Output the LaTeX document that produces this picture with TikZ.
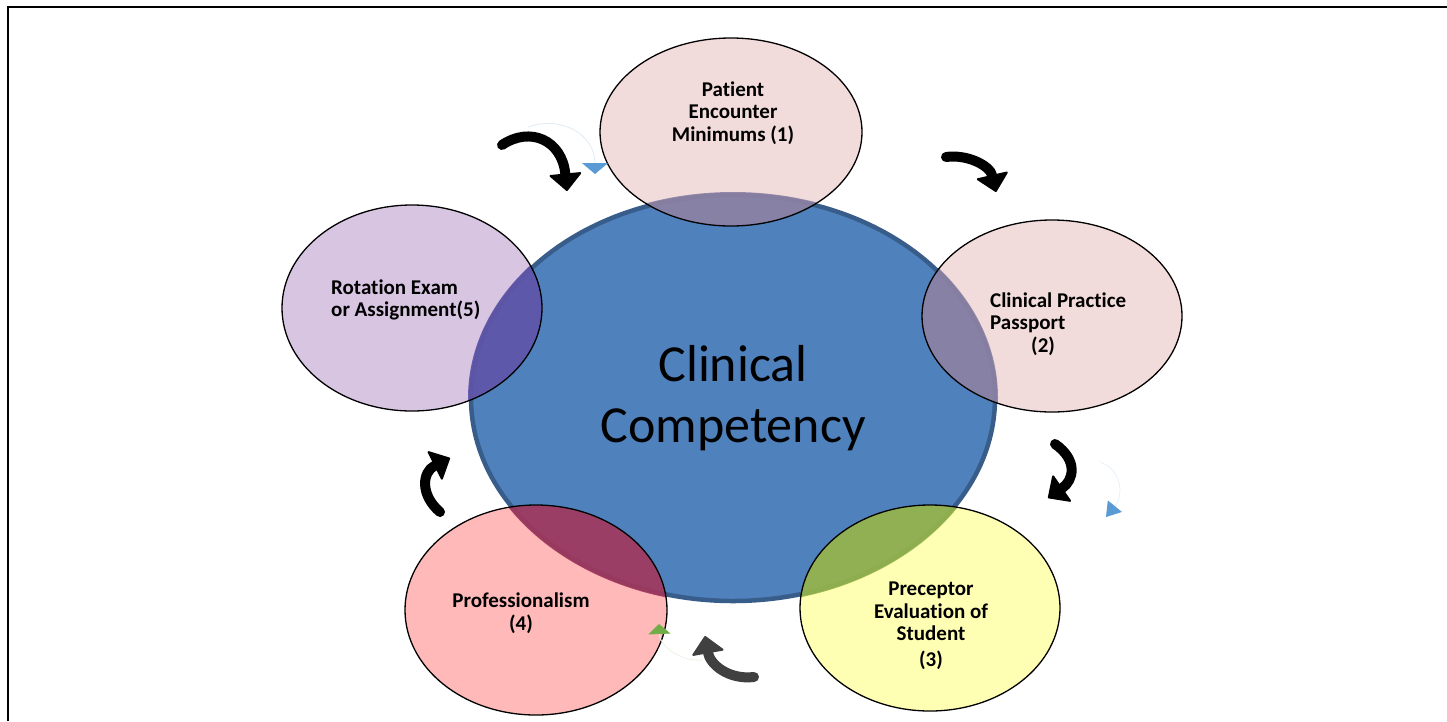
\documentclass[tikz,border=0pt]{standalone}
\usepackage{fontspec}
\setmainfont{Carlito}[Ligatures={CommonOff,ContextualOff},Contextuals=AlternateOff]
\usetikzlibrary{arrows.meta,shapes.geometric}

\definecolor{hubblue}{RGB}{79,129,189}
\definecolor{hubedge}{RGB}{56,93,138}
\definecolor{palepink}{RGB}{242,220,219}
\definecolor{lavender}{RGB}{216,197,226}
\definecolor{rosepink}{RGB}{255,185,185}
\definecolor{paleyellow}{RGB}{255,255,180}
\definecolor{mixpink}{RGB}{142,130,163}
\definecolor{mixlav}{RGB}{96,84,168}
\definecolor{mixrose}{RGB}{163,55,92}
\definecolor{mixyellow}{RGB}{152,182,72}
\definecolor{tipblue}{RGB}{91,155,213}
\definecolor{tipgreen}{RGB}{112,173,71}
\definecolor{darkarrow}{RGB}{64,64,64}

\begin{document}
\begin{tikzpicture}[x=1pt,y=-1pt,>={Triangle[width=34pt,length=18pt,line width=2pt,round]}]
\tikzstyle{hub} = [ellipse,draw=hubedge,line width=4.5pt,fill=hubblue,inner sep=0pt,minimum width=524pt,minimum height=406pt,align=center,font=\fontsize{52}{61}\selectfont]
\tikzstyle{spoke} = [ellipse,draw=black,line width=1.3pt,inner sep=0pt]
\tikzstyle{caption} = [inner sep=0pt,font=\bfseries\fontsize{21}{22.5}\selectfont]
\tikzstyle{bigarrow} = [->,line width=10pt,line cap=round]
\tikzstyle{ghost} = [line width=.8pt]
    \useasboundingbox (0,0) rectangle (1447,721);
    \draw[line width=2pt] (8,721) -- (8,7) -- (1447,7);

    \coordinate (c0) at (733,398);
    \coordinate (c1) at (731,132);
    \coordinate (c2) at (1052,316);
    \coordinate (c3) at (930,608);
    \coordinate (c4) at (536,610);
    \coordinate (c5) at (412,308);

    % satellite fills, under the hub
    \fill[palepink] (c1) ellipse [x radius=131pt, y radius=94pt];
    \fill[palepink] (c2) ellipse [x radius=130pt, y radius=96pt];
    \fill[paleyellow] (c3) ellipse [x radius=130pt, y radius=103pt];
    \fill[rosepink] (c4) ellipse [x radius=131pt, y radius=105pt];
    \fill[lavender] (c5) ellipse [x radius=130pt, y radius=103pt];

    \node[hub] (hub) at (c0) {Clinical\\Competency};

    % overlaps
    \begin{scope}
    \clip (c0) ellipse [x radius=265pt, y radius=206pt];
    \fill[mixpink,opacity=.9] (c1) ellipse [x radius=131pt, y radius=94pt];
    \fill[mixpink,opacity=.9] (c2) ellipse [x radius=130pt, y radius=96pt];
    \fill[mixyellow,opacity=.9] (c3) ellipse [x radius=130pt, y radius=103pt];
    \fill[mixrose,opacity=.9] (c4) ellipse [x radius=131pt, y radius=105pt];
    \fill[mixlav,opacity=.9] (c5) ellipse [x radius=130pt, y radius=103pt];
    \end{scope}

    \node[spoke,minimum width=262pt,minimum height=188pt] (encounter) at (c1) {};
    \node[spoke,minimum width=260pt,minimum height=192pt] (passport) at (c2) {};
    \node[spoke,minimum width=260pt,minimum height=206pt] (preceptor) at (c3) {};
    \node[spoke,minimum width=262pt,minimum height=210pt] (professionalism) at (c4) {};
    \node[spoke,minimum width=260pt,minimum height=206pt] (rotation) at (c5) {};

    \node[caption,align=center] (encounter-txt) at (733,113) {Patient\\Encounter\\Minimums (1)};
    \node[caption,align=left,anchor=west] (passport-txt) at (990,324) {Clinical Practice\\Passport\\\hspace{41pt}(2)};
    \node[caption,align=center] (preceptor-txt) at (931,626) {Preceptor\\Evaluation of\\Student\\[3pt](3)};
    \node[caption,align=center] (professionalism-txt) at (521,613) {Professionalism\\(4)};
    \node[caption,align=left,anchor=west] (rotation-txt) at (331,300) {Rotation Exam\\or Assignment(5)};

    % cycle arrows
    \coordinate (a1s) at (502,145);
    \coordinate (a1e) at (567,191);
    \coordinate (a2s) at (946,157);
    \coordinate (a2e) at (996,192);
    \coordinate (a3s) at (1055,444);
    \coordinate (a3e) at (1048,498);
    \coordinate (a4s) at (754,677);
    \coordinate (a4e) at (705,636);
    \coordinate (a5s) at (440,512);
    \coordinate (a5e) at (450,458);
    \draw[bigarrow] (a1s) .. controls (530,126) and (562,140) .. (a1e);
    \draw[bigarrow] (a2s) .. controls (968,154) and (990,166) .. (a2e);
    \draw[bigarrow] (a3s) .. controls (1078,460) and (1074,480) .. (a3e);
    \draw[bigarrow,darkarrow] (a4s) .. controls (728,680) and (710,664) .. (a4e);
    \draw[bigarrow] (a5s) .. controls (420,495) and (422,472) .. (a5e);

    % faint arcs
    \coordinate (g1s) at (528,127);
    \coordinate (g1e) at (595,174);
    \coordinate (g2s) at (1100,462);
    \coordinate (g2e) at (1106,517);
    \coordinate (g3s) at (702,660);
    \coordinate (g3e) at (659,624);
    \draw[ghost,tipblue!20,-{Triangle[width=26pt,length=11pt,color=tipblue]}] (g1s) .. controls (562,115) and (595,135) .. (g1e);
    \draw[ghost,tipblue!15,-{Triangle[width=18pt,length=14pt,color=tipblue]}] (g2s) .. controls (1122,470) and (1124,495) .. (g2e);
    \draw[ghost,tipgreen!15,-{Triangle[width=22pt,length=10pt,color=tipgreen]}] (g3s) .. controls (684,662) and (660,648) .. (g3e);
\end{tikzpicture}
\end{document}
